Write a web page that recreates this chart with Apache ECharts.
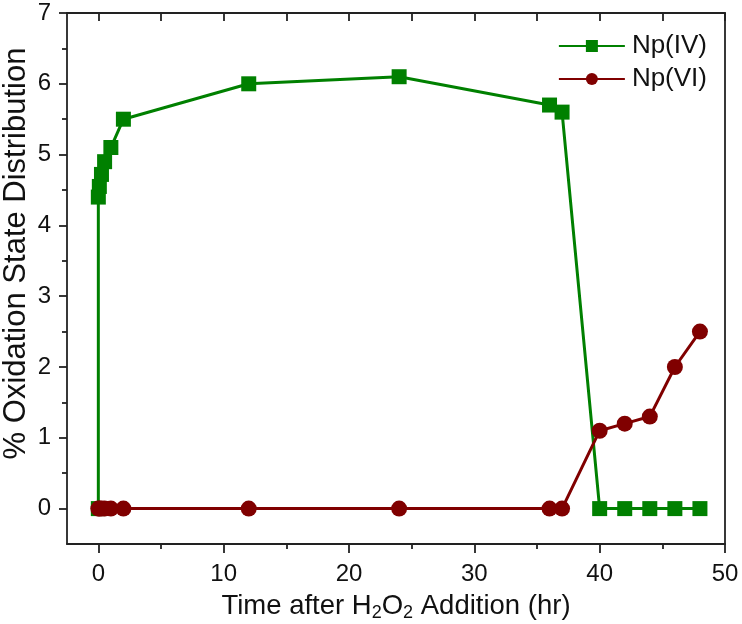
<!DOCTYPE html>
<html>
<head>
<meta charset="utf-8">
<script src="https://cdn.jsdelivr.net/npm/echarts@6/dist/echarts.min.js"></script>
<style>
  html, body { margin: 0; padding: 0; background: #fff; }
  #chart { width: 742px; height: 624px; }
</style>
</head>
<body>
<div id="chart"></div>
<script>
// 数据
var timeIV = [0, 0, 0.08, 0.25, 0.5, 1, 2, 12, 24, 36, 37, 40, 42, 44, 46, 48];
var npIV   = [0, 4.4, 4.55, 4.72, 4.9, 5.1, 5.5, 6.0, 6.1, 5.7, 5.6, 0, 0, 0, 0, 0];
var timeVI = [0, 0.08, 0.25, 0.5, 1, 2, 12, 24, 36, 37, 40, 42, 44, 46, 48];
var npVI   = [0, 0, 0, 0, 0, 0, 0, 0, 0, 0, 1.1, 1.2, 1.3, 2.0, 2.5];
var xLabels = [0, 10, 20, 30, 40, 50];
var xMinor  = [5, 15, 25, 35, 45];
var yLabels = [0, 1, 2, 3, 4, 5, 6, 7];
var yMinor  = [0.5, 1.5, 2.5, 3.5, 4.5, 5.5, 6.5];

function pairs(xs, ys) {
    var out = [];
    for (var i = 0; i < xs.length; i++) out.push([xs[i], ys[i]]);
    return out;
}

var font = 'Liberation Sans, Arial, sans-serif';
var axisColor = '#222';
var textColor = '#111';

var myChart = echarts.init(document.getElementById('chart'));

var option = {
    animation: false,
    grid: { left: 67, right: 17, top: 13, bottom: 80, outerBoundsMode: 'none', containLabel: false },
    legend: {
        data: ['Np(IV)', 'Np(VI)'],
        orient: 'vertical',
        right: 30,
        top: 28,
        itemWidth: 66,
        itemHeight: 15,
        itemGap: 7,
        textStyle: { fontFamily: font, fontSize: 26, color: textColor, padding: [0, 0, 0, 2] }
    },
    xAxis: [{
        type: 'value',
        min: -2.5,
        max: 50,
        position: 'bottom',
        name: 'Time after H{sub|2}O{sub|2} Addition (hr)',
        nameLocation: 'middle',
        nameGap: 46,
        nameMoveOverlap: false,
        nameTextStyle: {
            fontFamily: font, fontSize: 27.5, color: textColor,
            rich: { sub: { fontFamily: font, fontSize: 18, color: textColor, verticalAlign: 'bottom', padding: [14, 0, 0, 0] } }
        },
        splitLine: { show: false },
        axisLine: { onZero: false, lineStyle: { color: axisColor, width: 1.8 } },
        axisTick: { customValues: xLabels, length: 9, lineStyle: { color: axisColor, width: 1.8 } },
        axisLabel: { customValues: xLabels, fontFamily: font, fontSize: 24, color: textColor, margin: 18 }
    }, {
        type: 'value',
        min: -2.5,
        max: 50,
        position: 'bottom',
        splitLine: { show: false },
        axisLine: { show: false, onZero: false },
        axisTick: { customValues: xMinor, length: 5, lineStyle: { color: axisColor, width: 1.8 } },
        axisLabel: { show: false }
    }, {
        type: 'value',
        min: -2.5,
        max: 50,
        position: 'top',
        splitLine: { show: false },
        axisLine: { onZero: false, lineStyle: { color: axisColor, width: 1.8 } },
        axisTick: { inside: true, customValues: xLabels.concat(xMinor), length: 8, lineStyle: { color: axisColor, width: 1.8 } },
        axisLabel: { show: false }
    }],
    yAxis: [{
        type: 'value',
        min: -0.5,
        max: 7,
        position: 'left',
        name: '% Oxidation State Distribution',
        nameLocation: 'middle',
        nameGap: 35,
        nameMoveOverlap: false,
        nameTextStyle: { fontFamily: font, fontSize: 31, color: textColor, padding: [0, 0, 0, 50] },
        splitLine: { show: false },
        axisLine: { onZero: false, lineStyle: { color: axisColor, width: 1.8 } },
        axisTick: { customValues: yLabels, length: 8, lineStyle: { color: axisColor, width: 1.8 } },
        axisLabel: { customValues: yLabels, fontFamily: font, fontSize: 24, color: textColor, margin: 16 }
    }, {
        type: 'value',
        min: -0.5,
        max: 7,
        position: 'left',
        splitLine: { show: false },
        axisLine: { show: false, onZero: false },
        axisTick: { customValues: yMinor, length: 5, lineStyle: { color: axisColor, width: 1.8 } },
        axisLabel: { show: false }
    }, {
        type: 'value',
        min: -0.5,
        max: 7,
        position: 'right',
        splitLine: { show: false },
        axisLine: { onZero: false, lineStyle: { color: axisColor, width: 1.8 } },
        axisTick: { show: false },
        axisLabel: { show: false }
    }],
    series: [{
        name: 'Np(IV)',
        type: 'line',
        data: pairs(timeIV, npIV),
        symbol: 'rect',
        symbolSize: 15,
        color: '#008000',
        lineStyle: { color: '#008000', width: 3 },
        itemStyle: { color: '#008000' }
    }, {
        name: 'Np(VI)',
        type: 'line',
        data: pairs(timeVI, npVI),
        symbol: 'circle',
        symbolSize: 16,
        color: '#800000',
        lineStyle: { color: '#800000', width: 3 },
        itemStyle: { color: '#800000' }
    }]
};

myChart.setOption(option);
</script>
</body>
</html>
